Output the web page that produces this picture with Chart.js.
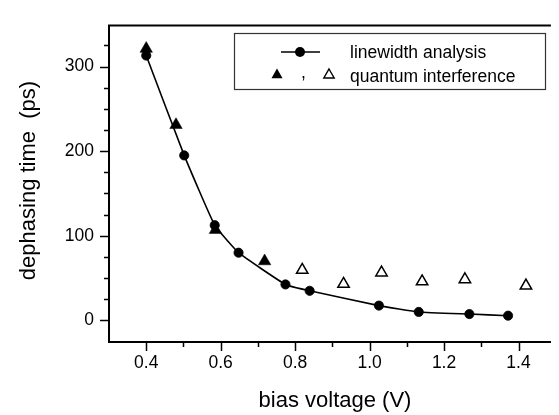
<!DOCTYPE html>
<html>
<head>
<meta charset="utf-8">
<script src="https://cdn.jsdelivr.net/npm/chart.js@4.4.0/dist/chart.umd.min.js"></script>
<style>
  html, body { margin: 0; padding: 0; background: #fff; overflow: hidden; }
  #wrap { width: 559px; height: 415px; position: relative; }
</style>
</head>
<body>
<div id="wrap"><canvas id="chart"></canvas></div>
<script>
// linewidth analysis (filled circles joined by a line)
const lwVoltage = [0.40, 0.502, 0.584, 0.648, 0.774, 0.839, 1.025, 1.132, 1.268, 1.372];
const lwTime = [313, 195, 112.5, 80, 42.5, 35, 17.5, 10, 7.5, 5.6];
// quantum interference, filled triangles
const qiFilledVoltage = [0.40, 0.48, 0.586, 0.718];
const qiFilledTime = [321, 231, 107, 70];
// quantum interference, open triangles
const qiOpenVoltage = [0.819, 0.93, 1.032, 1.141, 1.256, 1.42];
const qiOpenTime = [59.5, 43, 56.5, 46, 48.5, 41];

const xMajorTicks = [0.4, 0.6, 0.8, 1.0, 1.2, 1.4];
const xMinorTicks = [0.5, 0.7, 0.9, 1.1, 1.3];
const yMajorTicks = [0, 100, 200, 300];
const yMinorTicks = [25, 50, 75, 125, 150, 175, 225, 250, 275, 325];

const xTitle = 'bias voltage (V)';
const yTitle = 'dephasing time  (ps)';
const lwLabel = 'linewidth analysis';
const qiLabel = 'quantum interference';

const fontFamily = "'Liberation Sans', Arial, Helvetica, sans-serif";
Chart.defaults.font.family = fontFamily;
Chart.defaults.color = '#000';

const pts = (xs, ys) => xs.map((x, i) => ({ x: x, y: ys[i] }));

// top frame line, tick marks, axis titles and the boxed legend
const frame = {
  id: 'frame',
  afterDraw(chart) {
    const { ctx, chartArea: a } = chart;
    const xs = chart.scales.x, ys = chart.scales.y;
    ctx.save();
    ctx.strokeStyle = '#000';
    ctx.lineWidth = 2;
    ctx.beginPath();
    ctx.moveTo(a.left - 1, a.top);
    ctx.lineTo(a.right, a.top);
    ctx.stroke();

    ctx.lineWidth = 1.5;
    const xTick = (v, len) => {
      const px = Math.round(xs.getPixelForValue(v)) + 0.5;
      ctx.beginPath(); ctx.moveTo(px, a.bottom); ctx.lineTo(px, a.bottom + len); ctx.stroke();
    };
    const yTick = (v, len) => {
      const py = Math.round(ys.getPixelForValue(v)) + 0.5;
      ctx.beginPath(); ctx.moveTo(a.left, py); ctx.lineTo(a.left - len, py); ctx.stroke();
    };
    xMajorTicks.forEach(v => xTick(v, 9));
    xMinorTicks.forEach(v => xTick(v, 5));
    yMajorTicks.forEach(v => yTick(v, 9));
    yMinorTicks.forEach(v => yTick(v, 5));

    // axis titles
    ctx.fillStyle = '#000';
    ctx.font = '22px ' + fontFamily;
    ctx.textAlign = 'center';
    ctx.textBaseline = 'alphabetic';
    ctx.fillText(xTitle, 335, 407);
    ctx.save();
    ctx.translate(35, 180.5);
    ctx.rotate(-Math.PI / 2);
    ctx.fillText(yTitle, 0, 0);
    ctx.restore();

    // legend box
    ctx.strokeStyle = '#333';
    ctx.lineWidth = 1.2;
    ctx.strokeRect(234.5, 33.5, 311, 56);

    ctx.strokeStyle = '#000';
    ctx.lineWidth = 1.6;
    ctx.beginPath(); ctx.moveTo(281, 52); ctx.lineTo(320, 52); ctx.stroke();
    ctx.fillStyle = '#000';
    Chart.helpers.drawPoint(ctx, { pointStyle: 'circle', radius: 5, borderWidth: 0 }, 300, 52);

    Chart.helpers.drawPoint(ctx, { pointStyle: 'triangle', radius: 6.4, borderWidth: 0 }, 277, 75);
    ctx.fillStyle = '#fff';
    ctx.lineWidth = 1.4;
    Chart.helpers.drawPoint(ctx, { pointStyle: 'triangle', radius: 6, borderWidth: 1.4 }, 329, 75);

    ctx.fillStyle = '#000';
    ctx.font = '17.5px ' + fontFamily;
    ctx.textAlign = 'left';
    ctx.fillText(',', 301, 78);
    ctx.fillText(lwLabel, 350, 58);
    ctx.fillText(qiLabel, 350, 81.5);
    ctx.restore();
  }
};

new Chart(document.getElementById('chart'), {
  type: 'scatter',
  data: {
    datasets: [
      {
        label: lwLabel,
        data: pts(lwVoltage, lwTime),
        showLine: true,
        borderColor: '#000',
        borderWidth: 1.6,
        tension: 0.12,
        pointRadius: 4.6,
        pointBackgroundColor: '#000',
        pointBorderColor: '#000',
        pointBorderWidth: 0.8,
        order: 1
      },
      {
        label: qiLabel,
        data: pts(qiFilledVoltage, qiFilledTime),
        pointStyle: 'triangle',
        pointRadius: 7.2,
        pointBackgroundColor: '#000',
        pointBorderColor: '#000',
        pointBorderWidth: 0.5,
        order: 2
      },
      {
        label: qiLabel + ' (open)',
        data: pts(qiOpenVoltage, qiOpenTime),
        pointStyle: 'triangle',
        pointRadius: 6.6,
        pointBackgroundColor: '#fff',
        pointBorderColor: '#000',
        pointBorderWidth: 1.5,
        order: 2
      }
    ]
  },
  options: {
    responsive: true,
    maintainAspectRatio: false,
    animation: false,
    layout: { padding: { top: 7, right: 3, left: 0, bottom: 0 } },
    plugins: {
      legend: { display: false },
      tooltip: { enabled: false }
    },
    scales: {
      x: {
        type: 'linear',
        min: 0.3,
        max: 1.487,
        afterBuildTicks: s => { s.ticks = xMajorTicks.map(v => ({ value: v })); },
        afterFit: s => { s.height = 73; },
        grid: { display: false, drawTicks: false, tickLength: 0 },
        border: { display: true, color: '#000', width: 2 },
        ticks: {
          padding: 11,
          maxRotation: 0,
          autoSkip: false,
          font: { size: 17.5 },
          callback: v => Number(v).toFixed(1)
        }
      },
      y: {
        min: -25.5,
        max: 348.5,
        afterBuildTicks: s => { s.ticks = yMajorTicks.map(v => ({ value: v })); },
        afterFit: s => { s.width = 109; },
        grid: { display: false, drawTicks: false, tickLength: 0 },
        border: { display: true, color: '#000', width: 2 },
        ticks: {
          padding: 15,
          autoSkip: false,
          font: { size: 17.5 },
          callback: v => String(v)
        }
      }
    }
  },
  plugins: [frame]
});
</script>
</body>
</html>
